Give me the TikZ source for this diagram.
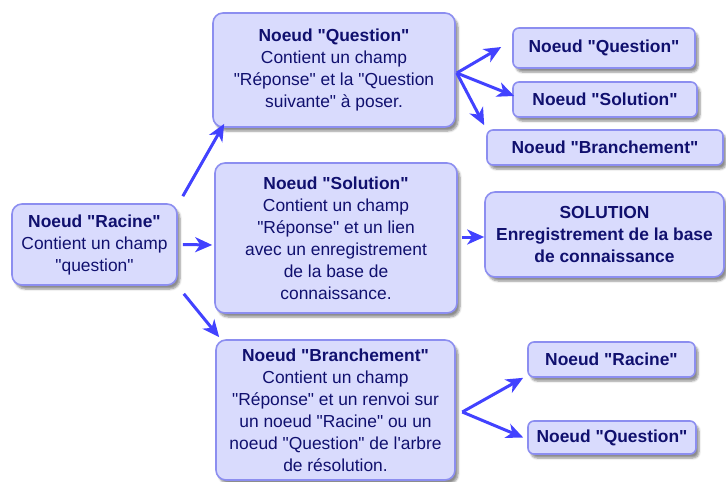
\documentclass[tikz,border=0pt]{standalone}
\usepackage{fontspec}
\setmainfont{Liberation Sans}[Ligatures=TeXOff]
\usetikzlibrary{arrows.meta,shadows.blur}
\definecolor{boxfill}{RGB}{217,219,253}
\definecolor{boxline}{RGB}{140,142,240}
\definecolor{txt}{RGB}{16,16,110}
\definecolor{arrowc}{RGB}{66,66,255}
\tikzset{
  box/.style={draw=boxline, line width=1.6pt, fill=boxfill, rounded corners=10pt,
    inner sep=0pt, align=center, text=txt, font=\fontsize{17.4}{22}\selectfont,
    blur shadow={shadow xshift=3pt, shadow yshift=-4pt, shadow blur steps=6, shadow opacity=45}},
  smallbox/.style={box, rounded corners=6pt, font=\fontsize{17.4}{22}\selectfont\bfseries},
  arr/.style={draw=arrowc, line width=3pt, -{Stealth[length=17pt,width=15pt,inset=5pt]}}
}
\begin{document}
\begin{tikzpicture}[x=1pt,y=-1pt]
\useasboundingbox (0,0) rectangle (726,482);
% main nodes
\node[box, minimum width=165pt, minimum height=81pt] (r) at (94.5,244.5)
  {\textbf{Noeud "Racine"}\\Contient un champ\\"question"};
\node[box, minimum width=242pt, minimum height=114pt] (q) at (334,70)
  {\textbf{Noeud "Question"}\\Contient un champ\\"Réponse" et la "Question\\suivante" à poser.};
\node[box, minimum width=242pt, minimum height=150pt] (s) at (336,238)
  {\textbf{Noeud "Solution"}\\Contient un champ\\"Réponse" et un lien\\avec un enregistrement\\de la base de\\connaissance.};
\node[box, minimum width=239pt, minimum height=140pt] (b) at (335.5,410)
  {\textbf{Noeud "Branchement"}\\Contient un champ\\"Réponse" et un renvoi sur\\un noeud "Racine" ou un\\noeud "Question" de l'arbre\\de résolution.};
% right column
\node[smallbox, minimum width=182pt, minimum height=40pt] (sq) at (604,48) {Noeud "Question"};
\node[smallbox, minimum width=184pt, minimum height=35pt] (ss) at (605,99.5) {Noeud "Solution"};
\node[smallbox, minimum width=236pt, minimum height=35pt] (sb) at (605,147.5) {Noeud "Branchement"};
\node[smallbox, rounded corners=10pt, minimum width=239pt, minimum height=85pt] (sol) at (604.5,234.5)
  {SOLUTION\\Enregistrement de la base\\de connaissance};
\node[smallbox, minimum width=167pt, minimum height=35pt] (sr) at (611.5,359.5) {Noeud "Racine"};
\node[smallbox, minimum width=168pt, minimum height=33pt] (sq2) at (612,437.5) {Noeud "Question"};
% fan origins
\coordinate (qfan) at ([shift={(1,3)}]q.east);
\coordinate (bfan) at ([shift={(6.5,2)}]b.east);
% arrows
\draw[arr] ([shift={(5,-7)}]r.north east) -- ([shift={(12,-4)}]q.south west);
\draw[arr] ([shift={(5,0)}]r.east) -- ([shift={(-2,7)}]s.west);
\draw[arr] ([shift={(6,8)}]r.south east) -- ([shift={(4,-2)}]b.north west);
\draw[arr] ([shift={(4,-1)}]s.east) -- ([shift={(0,2.5)}]sol.west);
\draw[arr] (qfan) -- ([shift={(-11,-1)}]sq.west);
\draw[arr] (qfan) -- ([shift={(2,-3.5)}]ss.west);
\draw[arr] (qfan) -- ([shift={(-2,-4)}]sb.north west);
\draw[arr] (bfan) -- ([shift={(-4,0)}]sr.south west);
\draw[arr] (bfan) -- ([shift={(-4,0)}]sq2.west);
\end{tikzpicture}
\end{document}
